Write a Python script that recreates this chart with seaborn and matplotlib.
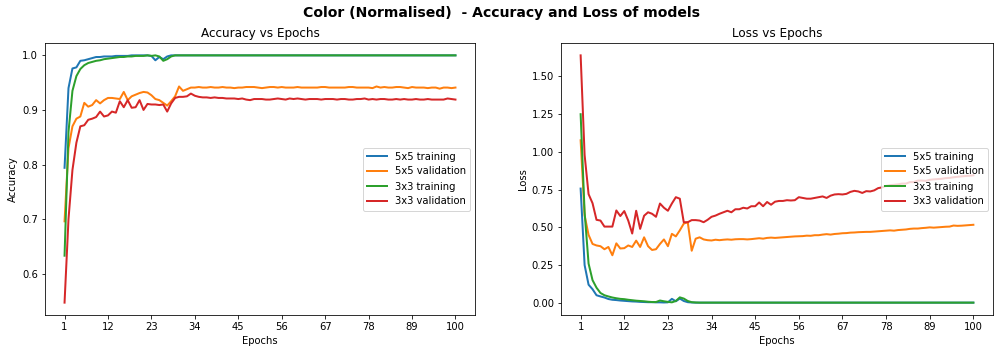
import matplotlib
matplotlib.use("Agg")
import matplotlib.pyplot as plt
import seaborn as sns
import numpy as np

# epochs 1..100
epochs = np.arange(1, 101)

# accuracy, 5x5 kernel model
acc_5x5_train = [
    0.794, 0.940, 0.976, 0.978, 0.990, 0.991, 0.993, 0.995, 0.997, 0.997,
    0.998, 0.998, 0.998, 0.999, 0.999, 0.999, 0.999, 1.000, 1.000, 1.000,
    1.000, 1.000, 0.999, 0.991, 0.997, 0.993, 0.998, 1.000, 1.000, 1.000,
    1.000, 1.000, 1.000, 1.000, 1.000, 1.000, 1.000, 1.000, 1.000, 1.000,
    1.000, 1.000, 1.000, 1.000, 1.000, 1.000, 1.000, 1.000, 1.000, 1.000,
    1.000, 1.000, 1.000, 1.000, 1.000, 1.000, 1.000, 1.000, 1.000, 1.000,
    1.000, 1.000, 1.000, 1.000, 1.000, 1.000, 1.000, 1.000, 1.000, 1.000,
    1.000, 1.000, 1.000, 1.000, 1.000, 1.000, 1.000, 1.000, 1.000, 1.000,
    1.000, 1.000, 1.000, 1.000, 1.000, 1.000, 1.000, 1.000, 1.000, 1.000,
    1.000, 1.000, 1.000, 1.000, 1.000, 1.000, 1.000, 1.000, 1.000, 1.000,
]
acc_5x5_val = [
    0.696, 0.830, 0.870, 0.884, 0.888, 0.913, 0.906, 0.909, 0.918, 0.912,
    0.918, 0.922, 0.922, 0.921, 0.920, 0.933, 0.918, 0.925, 0.928, 0.931,
    0.933, 0.932, 0.927, 0.920, 0.918, 0.913, 0.908, 0.916, 0.925, 0.943,
    0.935, 0.938, 0.941, 0.941, 0.942, 0.941, 0.941, 0.942, 0.941, 0.941,
    0.942, 0.941, 0.941, 0.940, 0.941, 0.941, 0.942, 0.942, 0.942, 0.941,
    0.940, 0.941, 0.942, 0.942, 0.941, 0.942, 0.941, 0.941, 0.941, 0.942,
    0.941, 0.941, 0.941, 0.941, 0.941, 0.942, 0.942, 0.941, 0.941, 0.941,
    0.941, 0.941, 0.942, 0.942, 0.941, 0.941, 0.941, 0.941, 0.940, 0.943,
    0.941, 0.942, 0.941, 0.941, 0.942, 0.942, 0.941, 0.940, 0.942, 0.941,
    0.941, 0.941, 0.940, 0.941, 0.941, 0.939, 0.941, 0.941, 0.940, 0.941,
]

# accuracy, 3x3 kernel model
acc_3x3_train = [
    0.633, 0.860, 0.935, 0.962, 0.975, 0.982, 0.986, 0.988, 0.990, 0.991,
    0.993, 0.994, 0.995, 0.996, 0.997, 0.997, 0.998, 0.998, 0.999, 0.999,
    0.999, 1.000, 0.999, 1.000, 0.998, 0.990, 0.993, 0.998, 1.000, 1.000,
    1.000, 1.000, 1.000, 1.000, 1.000, 1.000, 1.000, 1.000, 1.000, 1.000,
    1.000, 1.000, 1.000, 1.000, 1.000, 1.000, 1.000, 1.000, 1.000, 1.000,
    1.000, 1.000, 1.000, 1.000, 1.000, 1.000, 1.000, 1.000, 1.000, 1.000,
    1.000, 1.000, 1.000, 1.000, 1.000, 1.000, 1.000, 1.000, 1.000, 1.000,
    1.000, 1.000, 1.000, 1.000, 1.000, 1.000, 1.000, 1.000, 1.000, 1.000,
    1.000, 1.000, 1.000, 1.000, 1.000, 1.000, 1.000, 1.000, 1.000, 1.000,
    1.000, 1.000, 1.000, 1.000, 1.000, 1.000, 1.000, 1.000, 1.000, 1.000,
]
acc_3x3_val = [
    0.547, 0.700, 0.790, 0.840, 0.870, 0.872, 0.882, 0.884, 0.887, 0.897,
    0.888, 0.890, 0.897, 0.895, 0.916, 0.905, 0.918, 0.904, 0.905, 0.918,
    0.900, 0.911, 0.910, 0.910, 0.909, 0.910, 0.897, 0.912, 0.922, 0.924,
    0.924, 0.925, 0.930, 0.926, 0.924, 0.923, 0.923, 0.922, 0.923, 0.922,
    0.922, 0.921, 0.921, 0.921, 0.920, 0.921, 0.919, 0.918, 0.920, 0.920,
    0.920, 0.919, 0.919, 0.920, 0.921, 0.920, 0.919, 0.921, 0.920, 0.921,
    0.920, 0.919, 0.920, 0.920, 0.920, 0.919, 0.920, 0.920, 0.920, 0.919,
    0.920, 0.920, 0.919, 0.919, 0.920, 0.920, 0.921, 0.919, 0.920, 0.919,
    0.920, 0.920, 0.919, 0.919, 0.920, 0.919, 0.920, 0.919, 0.919, 0.920,
    0.919, 0.919, 0.920, 0.919, 0.919, 0.919, 0.919, 0.921, 0.920, 0.919,
]

# loss, 5x5 kernel model
loss_5x5_train = [
    0.757, 0.250, 0.120, 0.090, 0.050, 0.042, 0.035, 0.025, 0.020, 0.018,
    0.015, 0.013, 0.011, 0.009, 0.008, 0.006, 0.005, 0.004, 0.004, 0.003,
    0.003, 0.002, 0.003, 0.026, 0.010, 0.028, 0.012, 0.004, 0.002, 0.001,
    0.001, 0.001, 0.001, 0.001, 0.001, 0.001, 0.001, 0.001, 0.001, 0.001,
    0.001, 0.001, 0.001, 0.001, 0.001, 0.001, 0.001, 0.001, 0.001, 0.001,
    0.001, 0.001, 0.001, 0.001, 0.001, 0.001, 0.001, 0.001, 0.001, 0.001,
    0.001, 0.001, 0.001, 0.001, 0.001, 0.001, 0.001, 0.001, 0.001, 0.001,
    0.001, 0.001, 0.001, 0.001, 0.001, 0.001, 0.001, 0.001, 0.001, 0.001,
    0.001, 0.001, 0.001, 0.001, 0.001, 0.001, 0.001, 0.001, 0.001, 0.001,
    0.001, 0.001, 0.001, 0.001, 0.001, 0.001, 0.001, 0.001, 0.001, 0.001,
]
loss_5x5_val = [
    1.077, 0.580, 0.450, 0.390, 0.380, 0.375, 0.355, 0.370, 0.315, 0.394,
    0.360, 0.362, 0.380, 0.370, 0.412, 0.370, 0.434, 0.375, 0.350, 0.355,
    0.390, 0.420, 0.375, 0.457, 0.440, 0.480, 0.525, 0.534, 0.345, 0.425,
    0.434, 0.420, 0.415, 0.413, 0.418, 0.415, 0.418, 0.420, 0.418, 0.421,
    0.422, 0.422, 0.420, 0.422, 0.425, 0.428, 0.425, 0.430, 0.432, 0.430,
    0.432, 0.434, 0.436, 0.438, 0.440, 0.441, 0.442, 0.445, 0.444, 0.448,
    0.448, 0.452, 0.455, 0.452, 0.456, 0.458, 0.461, 0.462, 0.465, 0.466,
    0.468, 0.469, 0.470, 0.470, 0.472, 0.474, 0.476, 0.478, 0.480, 0.478,
    0.482, 0.484, 0.486, 0.490, 0.492, 0.492, 0.495, 0.497, 0.500, 0.498,
    0.500, 0.502, 0.504, 0.505, 0.512, 0.510, 0.511, 0.513, 0.515, 0.517,
]

# loss, 3x3 kernel model
loss_3x3_train = [
    1.250, 0.600, 0.260, 0.150, 0.100, 0.065, 0.050, 0.042, 0.035, 0.030,
    0.026, 0.024, 0.020, 0.017, 0.014, 0.012, 0.010, 0.007, 0.005, 0.005,
    0.015, 0.010, 0.006, 0.003, 0.012, 0.036, 0.028, 0.012, 0.004, 0.002,
    0.001, 0.001, 0.001, 0.001, 0.001, 0.001, 0.001, 0.001, 0.001, 0.001,
    0.001, 0.001, 0.001, 0.001, 0.001, 0.001, 0.001, 0.001, 0.001, 0.001,
    0.001, 0.001, 0.001, 0.001, 0.001, 0.001, 0.001, 0.001, 0.001, 0.001,
    0.001, 0.001, 0.001, 0.001, 0.001, 0.001, 0.001, 0.001, 0.001, 0.001,
    0.001, 0.001, 0.001, 0.001, 0.001, 0.001, 0.001, 0.001, 0.001, 0.001,
    0.001, 0.001, 0.001, 0.001, 0.001, 0.001, 0.001, 0.001, 0.001, 0.001,
    0.001, 0.001, 0.001, 0.001, 0.001, 0.001, 0.001, 0.001, 0.001, 0.001,
]
loss_3x3_val = [
    1.640, 0.980, 0.720, 0.660, 0.550, 0.545, 0.505, 0.505, 0.505, 0.612,
    0.575, 0.608, 0.545, 0.459, 0.610, 0.490, 0.577, 0.600, 0.590, 0.570,
    0.658, 0.630, 0.610, 0.658, 0.700, 0.690, 0.534, 0.534, 0.548, 0.548,
    0.545, 0.534, 0.550, 0.570, 0.578, 0.590, 0.600, 0.610, 0.600, 0.620,
    0.620, 0.630, 0.625, 0.640, 0.640, 0.665, 0.640, 0.668, 0.650, 0.670,
    0.675, 0.675, 0.680, 0.678, 0.680, 0.700, 0.695, 0.690, 0.690, 0.695,
    0.700, 0.705, 0.695, 0.710, 0.718, 0.720, 0.718, 0.722, 0.735, 0.742,
    0.738, 0.728, 0.740, 0.738, 0.745, 0.760, 0.765, 0.775, 0.780, 0.782,
    0.785, 0.790, 0.790, 0.800, 0.800, 0.810, 0.810, 0.808, 0.815, 0.818,
    0.820, 0.822, 0.826, 0.828, 0.832, 0.835, 0.838, 0.840, 0.842, 0.845,
]

labels = ["5x5 training", "5x5 validation", "3x3 training", "3x3 validation"]
colors = ["#1f77b4", "#ff7f0e", "#2ca02c", "#d62728"]
xticks = list(range(1, 101, 11))

fig = plt.figure(figsize=(1003 / 72, 353 / 72), dpi=72)
ax1 = fig.add_axes([45 / 1003, 38 / 353, 430 / 1003, 272 / 353])
ax2 = fig.add_axes([561 / 1003, 38 / 353, 432 / 1003, 272 / 353])

acc_series = [acc_5x5_train, acc_5x5_val, acc_3x3_train, acc_3x3_val]
loss_series = [loss_5x5_train, loss_5x5_val, loss_3x3_train, loss_3x3_val]

for vals, lab, col in zip(acc_series, labels, colors):
    sns.lineplot(x=epochs, y=vals, ax=ax1, label=lab, color=col, linewidth=2)
for vals, lab, col in zip(loss_series, labels, colors):
    sns.lineplot(x=epochs, y=vals, ax=ax2, label=lab, color=col, linewidth=2)

ax1.set_title("Accuracy vs Epochs", fontsize=12)
ax1.set_xlabel("Epochs", fontsize=10)
ax1.set_ylabel("Accuracy", fontsize=10)
ax1.set_xticks(xticks)
ax1.legend(loc="center right", fontsize=10)

ax2.set_title("Loss vs Epochs", fontsize=12)
ax2.set_xlabel("Epochs", fontsize=10)
ax2.set_ylabel("Loss", fontsize=10)
ax2.set_xticks(xticks)
ax2.set_yticks([0.0, 0.25, 0.5, 0.75, 1.0, 1.25, 1.5])
ax2.yaxis.set_major_formatter(matplotlib.ticker.FormatStrFormatter("%.2f"))
ax2.legend(loc="center right", fontsize=10)

fig.suptitle("Color (Normalised)  - Accuracy and Loss of models",
             fontsize=14, fontweight="bold", y=1 - 13 / 353, va="center")

fig.savefig("out.png", dpi=72)
